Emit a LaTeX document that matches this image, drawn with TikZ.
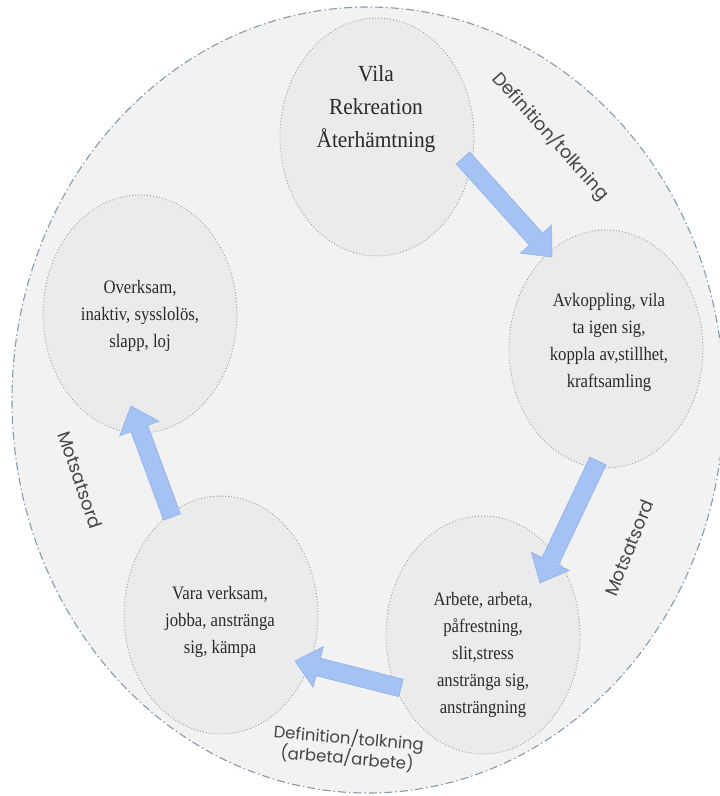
\documentclass[tikz,border=0pt]{standalone}
\usepackage{fontspec}
\setmainfont{Liberation Serif}
\newfontfamily\nodefont[FakeStretch=0.88]{Liberation Serif}
\newfontfamily\topfont[FakeStretch=0.93]{Liberation Serif}
\newfontfamily\labelfont{Poppins}
\usetikzlibrary{shapes.geometric,calc}
\definecolor{bigfill}{HTML}{F2F2F2}
\definecolor{smallfill}{HTML}{EBEBEB}
\definecolor{bigline}{HTML}{8A9AA8}
\definecolor{dotline}{HTML}{9A9A9A}
\definecolor{arrowfill}{HTML}{A4C2F4}
\definecolor{arrowline}{HTML}{90B2EC}
\definecolor{txt}{HTML}{2A2A2A}
\definecolor{lbl}{HTML}{454545}
\newcommand{\myblockarrow}[2]{%
  \coordinate (#1-h) at ($(#2)!24pt!(#1)$);
  \draw[blockarrow] ($(#1)!9pt!90:(#2)$) -- ($(#1-h)!9pt!90:(#2)$) -- ($(#1-h)!21pt!90:(#2)$) -- (#2)
    -- ($(#1-h)!21pt!-90:(#2)$) -- ($(#1-h)!9pt!-90:(#2)$) -- ($(#1)!9pt!-90:(#2)$) -- cycle;
}
\tikzset{
  bigcirc/.style={ellipse, draw=bigline, fill=bigfill, line width=1.1pt,
    dash pattern=on 8pt off 3pt on 1.5pt off 3pt,
    minimum width=712pt, minimum height=786pt, inner sep=0pt},
  smallcirc/.style={ellipse, draw=dotline, fill=smallfill, line width=0.9pt,
    dash pattern=on 0.9pt off 2.1pt,
    minimum width=194pt, minimum height=238pt, inner sep=0pt},
  nodetext/.style={align=center, text=txt, inner sep=0pt,
    font=\nodefont\fontsize{19}{27}\selectfont},
  toptext/.style={align=center, text=txt, inner sep=0pt,
    font=\topfont\fontsize{23}{33}\selectfont},
  lbltext/.style={align=center, text=lbl, inner sep=0pt,
    font=\labelfont\fontsize{18}{22}\selectfont},
  lblsmall/.style={align=center, text=lbl, inner sep=0pt,
    font=\labelfont\fontsize{16.5}{20}\selectfont},
  blockarrow/.style={fill=arrowfill, draw=arrowline, line width=0.6pt, line join=miter}
}
\begin{document}
\begin{tikzpicture}[x=1pt,y=-1pt]
\fill[white] (0,0) rectangle (720,796);
\useasboundingbox (0,0) rectangle (720,796);
\node[bigcirc] (big) at (368,400) {};
\node[smallcirc] (top) at (377,137) {};
\node[smallcirc] (right) at (606,349) {};
\node[smallcirc] (br) at (483,635) {};
\node[smallcirc] (bl) at (221,615) {};
\node[smallcirc] (tl) at (140,314) {};

\node[toptext] (ttop) at (376,109) {Vila\\Rekreation\\Återhämtning};
\node[nodetext] (tright) at (609,342) {Avkoppling, vila\\ta igen sig,\\koppla av,stillhet,\\kraftsamling};
\node[nodetext] (tbr) at (483,655) {Arbete, arbeta,\\påfrestning,\\slit,stress\\anstränga sig,\\ansträngning};
\node[nodetext] (tbl) at (220,622) {Vara verksam,\\jobba, anstränga\\sig, kämpa};
\node[nodetext] (ttl) at (140,316) {Overksam,\\inaktiv, sysslolös,\\slapp, loj};

\node[lbltext, rotate=-48] (l1) at (551,136) {Definition/tolkning};
\node[lbltext, rotate=68] (l2) at (629,548) {Motsatsord};
\node[lblsmall, rotate=-5] (l3) at (348,748) {Definition/tolkning\\(arbeta/arbete)};
\node[lbltext, rotate=-71] (l4) at (80,480) {Motsatsord};

\coordinate (a1s) at ($(top.center)+(86,21)$);
\coordinate (a1e) at ($(right.center)+(-54,-92)$);
\coordinate (a2s) at ($(right.center)+(-8,112)$);
\coordinate (a2e) at ($(br.center)+(57,-52)$);
\coordinate (a3s) at ($(br.center)+(-82,53)$);
\coordinate (a3e) at ($(bl.center)+(74,46)$);
\coordinate (a4s) at ($(bl.center)+(-49,-98)$);
\coordinate (a4e) at ($(tl.center)+(-9,92)$);
\myblockarrow{a1s}{a1e}
\myblockarrow{a2s}{a2e}
\myblockarrow{a3s}{a3e}
\myblockarrow{a4s}{a4e}
\end{tikzpicture}
\end{document}
